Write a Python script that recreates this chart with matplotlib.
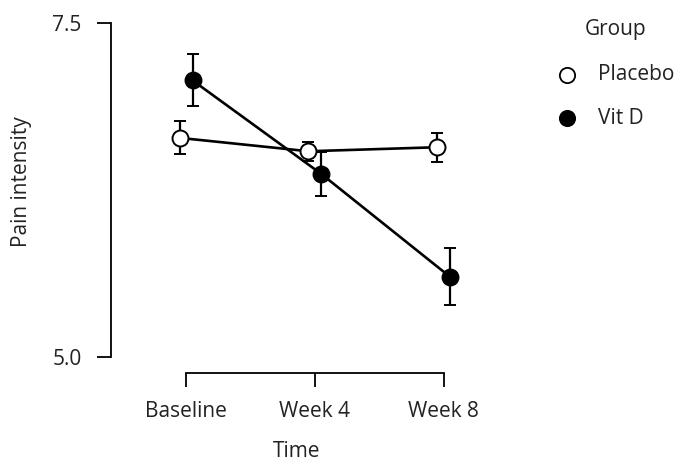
import numpy as np
import matplotlib
matplotlib.use("Agg")
import matplotlib.pyplot as plt
from matplotlib.lines import Line2D

plt.rcParams['font.family'] = ['Open Sans', 'DejaVu Sans']

# data
time_labels = ['Baseline', 'Week 4', 'Week 8']
group_labels = ['Placebo', 'Vit D']
placebo_mean = [6.64, 6.54, 6.57]
placebo_err = [0.123, 0.071, 0.108]
vitd_mean = [7.07, 6.37, 5.60]
vitd_err = [0.195, 0.168, 0.213]

x = np.arange(len(time_labels))
dodge = 0.05
W, H = 684, 471

fig = plt.figure(figsize=(6.84, 4.71), dpi=100)
ax = fig.add_axes([0.1623, 0.2420, 0.5427, 0.7092])

style = dict(color='black', lw=1.9, elinewidth=1.6, capsize=4.5, capthick=1.6,
             marker='o', markersize=11.5, markeredgecolor='black', markeredgewidth=1.4)
# Placebo: open circles
ax.errorbar(x - dodge, placebo_mean, yerr=placebo_err, markerfacecolor='white',
            zorder=3, **style)
# Vit D: filled circles
ax.errorbar(x + dodge, vitd_mean, yerr=vitd_err, markerfacecolor='black',
            zorder=2, **style)

ax.set_xlim(-0.584, 2.3)
ax.set_ylim(5.0, 7.5)
ax.set_xticks(x)
ax.set_xticklabels(time_labels)
ax.set_yticks([5.0, 7.5])
ax.set_yticklabels(['5.0', '7.5'])

for s in ['top', 'right']:
    ax.spines[s].set_visible(False)
ax.spines['left'].set_bounds(5.0, 7.5)
ax.spines['bottom'].set_bounds(0, 2)
ax.spines['bottom'].set_position(('outward', 11.5))
ax.spines['left'].set_linewidth(1.3)
ax.spines['bottom'].set_linewidth(1.3)
ax.tick_params(axis='both', length=10, width=1.3, labelsize=15, color='black',
               labelcolor='#222222')
ax.tick_params(axis='x', pad=10)
ax.tick_params(axis='y', pad=11)

ax.set_xlabel('Time', fontsize=15, color='#222222', labelpad=14)
ax.set_ylabel('Pain intensity', fontsize=15, color='#222222')
ax.yaxis.set_label_coords(-0.213, 0.525)

# legend drawn by hand to match spacing
fig.text(616 / W, 1 - 29 / H, 'Group', fontsize=15, color='#222222',
         ha='center', va='center')
faces = ['white', 'black']
for i, (lab, fc) in enumerate(zip(group_labels, faces)):
    yy = 1 - (75 + 43 * i) / H
    fig.add_artist(Line2D([567 / W], [yy], transform=fig.transFigure, ls='none',
                          marker='o', markersize=11, markerfacecolor=fc,
                          markeredgecolor='black', markeredgewidth=1.3))
    fig.text(598 / W, yy, lab, fontsize=15, color='#222222', ha='left', va='center')

plt.savefig('out.png', dpi=100)
